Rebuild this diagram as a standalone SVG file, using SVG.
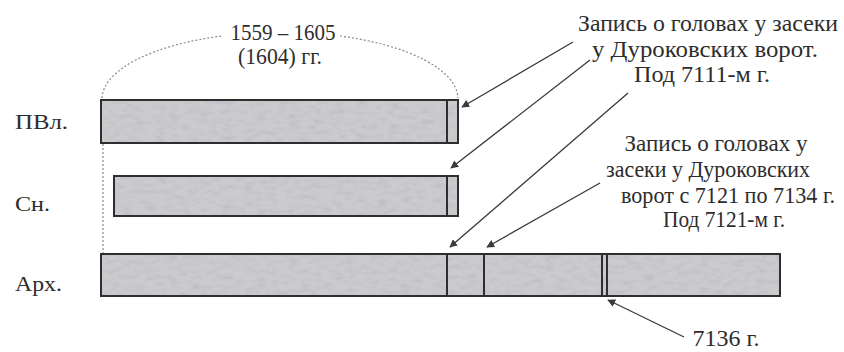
<svg xmlns="http://www.w3.org/2000/svg" width="844" height="352" viewBox="0 0 844 352">
<defs>
<style>
text{fill:#2d2d2d;font-family:Liberation Serif,Tinos,Times New Roman,Times,serif;}
.lbl{font-size:22px;}
.t{font-size:23px;text-anchor:middle;}
.fill{fill:#cbcbce;stroke:none;filter:url(#grain);}
.frame{fill:none;stroke:#2e2e2e;stroke-width:2;}
.div{stroke:#2e2e2e;stroke-width:2;}
.dash{fill:none;stroke:#8a8a8a;stroke-width:1.2;stroke-dasharray:2 2;}
.arr{fill:none;stroke:#3a3a3a;stroke-width:1.3;marker-end:url(#ah);}
</style>
<filter id="grain" x="0" y="0" width="100%" height="100%">
<feTurbulence type="fractalNoise" baseFrequency="0.09 0.2" numOctaves="2" seed="5" result="n"/>
<feColorMatrix in="n" type="matrix" values="0 0 0 0 0.42  0 0 0 0 0.42  0 0 0 0 0.5  0 0 0 1.1 -0.5" result="spots"/>
<feComposite in="spots" in2="SourceGraphic" operator="in" result="s2"/>
<feMerge><feMergeNode in="SourceGraphic"/><feMergeNode in="s2"/></feMerge>
</filter>
<marker id="ah" viewBox="0 0 10 10" refX="9" refY="5" markerWidth="8" markerHeight="8" markerUnits="userSpaceOnUse" orient="auto">
<path d="M0,0 L10,5 L0,10 z" fill="#3a3a3a"/>
</marker>
</defs>
<rect width="844" height="352" fill="#ffffff"/>

<g id="span-label">
<path class="dash" d="M102,98 A178,67 0 0 1 222,36"/>
<path class="dash" d="M340,36 A178,67 0 0 1 458,98"/>
<path class="dash" d="M103,144 L103,253"/>
<text class="t" x="283" y="40" textLength="105" lengthAdjust="spacingAndGlyphs">1559 – 1605</text>
<text class="t" x="280" y="64" textLength="84" lengthAdjust="spacingAndGlyphs">(1604) гг.</text>
</g>

<g id="bar-pvl">
<text class="lbl" x="15" y="129" textLength="53" lengthAdjust="spacingAndGlyphs">ПВл.</text>
<rect class="fill" x="101" y="100" width="357" height="43"/>
<rect class="frame" x="101" y="100" width="357" height="43"/>
<line class="div" x1="447" y1="100" x2="447" y2="143"/>
</g>

<g id="bar-sn">
<text class="lbl" x="15" y="211" textLength="35" lengthAdjust="spacingAndGlyphs">Сн.</text>
<rect class="fill" x="114" y="176" width="344" height="40"/>
<rect class="frame" x="114" y="176" width="344" height="40"/>
<line class="div" x1="447" y1="176" x2="447" y2="216"/>
</g>

<g id="bar-arh">
<text class="lbl" x="15" y="291" textLength="47" lengthAdjust="spacingAndGlyphs">Арх.</text>
<rect class="fill" x="101" y="254" width="679" height="42"/>
<rect class="frame" x="101" y="254" width="679" height="42"/>
<line class="div" x1="447" y1="254" x2="447" y2="296"/>
<line class="div" x1="484" y1="254" x2="484" y2="296"/>
<line class="div" x1="602" y1="254" x2="602" y2="296"/>
<line class="div" x1="607" y1="254" x2="607" y2="296" stroke-width="1.2"/>
</g>

<g id="note-7111">
<text class="t" x="708" y="31" textLength="260" lengthAdjust="spacingAndGlyphs">Запись о головах у засеки</text>
<text class="t" x="705" y="57" textLength="226" lengthAdjust="spacingAndGlyphs">у Дуроковских ворот.</text>
<text class="t" x="702" y="82" textLength="136" lengthAdjust="spacingAndGlyphs">Под 7111-м г.</text>
</g>

<g id="note-7121">
<text class="t" x="716" y="151" textLength="183" lengthAdjust="spacingAndGlyphs">Запись о головах у</text>
<text class="t" x="708" y="177" textLength="204" lengthAdjust="spacingAndGlyphs">засеки у Дуроковских</text>
<text class="t" x="728" y="203" textLength="214" lengthAdjust="spacingAndGlyphs">ворот с 7121 по 7134 г.</text>
<text class="t" x="724" y="227" textLength="122" lengthAdjust="spacingAndGlyphs">Под 7121-м г.</text>
</g>

<g id="note-7136">
<text class="t" x="726" y="346" textLength="67" lengthAdjust="spacingAndGlyphs">7136 г.</text>
</g>

<g id="connectors">
<path class="arr" d="M573,42 L462,107"/>
<path class="arr" d="M590,60 L451,168"/>
<path class="arr" d="M628,93 L450,247"/>
<path class="arr" d="M600,183 L487,247"/>
<path class="arr" d="M684,337 L608,300"/>
</g>
</svg>
